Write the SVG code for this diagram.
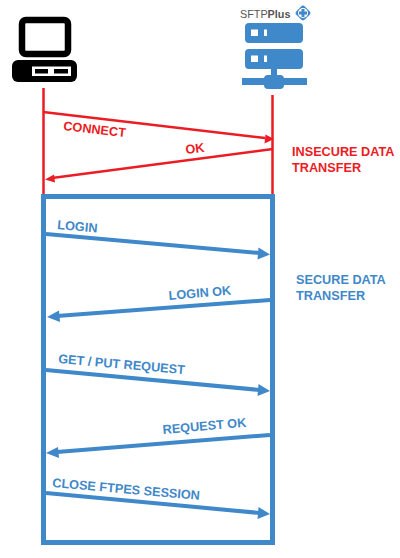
<svg xmlns="http://www.w3.org/2000/svg" width="400" height="558" viewBox="0 0 400 558">
<style>
text{font-family:"Liberation Sans",Arial,sans-serif;font-weight:700;font-size:12.700px}
.r{fill:#ec1c24}.b{fill:#3f88c9}
.rl{stroke:#ec1c24;stroke-width:2.5;fill:none}
.bl{stroke:#3f88c9;stroke-width:4;fill:none}
</style>
<rect width="400" height="558" fill="#fff"/>
<g id="client">
<rect x="22" y="20" width="46" height="34" rx="4" fill="#fff" stroke="#000" stroke-width="6.500"/>
<rect x="12" y="60" width="65" height="22" rx="6" fill="#000"/>
<rect x="32" y="66.500" width="39" height="9.500" fill="#fff"/>
<rect x="35" y="69" width="13" height="4.500" fill="#000"/>
<rect x="54" y="69" width="14" height="4.500" fill="#000"/>
</g>
<g id="server">
<text x="240" y="18" style="font-weight:400;font-size:10.800px;fill:#555">SFTP<tspan style="font-weight:700">Plus</tspan></text>
<rect x="297" y="7" width="12" height="12" rx="3" transform="rotate(45 303 13)" fill="#3f88c9"/>
<circle cx="303" cy="13" r="5" fill="#fff"/>
<path d="M301.500 9h3v2.500h2.500v3h-2.500v2.500h-3v-2.500h-2.500v-3h2.500z" fill="#3f88c9"/>
<rect x="245" y="23" width="58" height="20" rx="4" fill="#3f88c9"/>
<rect x="245" y="49" width="58" height="20" rx="4" fill="#3f88c9"/>
<rect x="251" y="29.500" width="7" height="6.500" fill="#fff"/>
<rect x="264" y="29.500" width="3" height="6.500" fill="#fff"/>
<rect x="251" y="55.500" width="7" height="6.500" fill="#fff"/>
<rect x="264" y="55.500" width="3" height="6.500" fill="#fff"/>
<rect x="271" y="69" width="6" height="8" fill="#3f88c9"/>
<rect x="242" y="78" width="65" height="7" fill="#3f88c9"/>
<rect x="264" y="75" width="20" height="14" rx="4" fill="#3f88c9"/>
</g>
<g id="connectors">
<path class="rl" d="M43.500 88V195M272.500 95V195"/>
<path class="rl" d="M43 112L265 138"/>
<path class="r" d="M274 139L264.500 143.500L265.500 134.500Z"/>
<path class="rl" d="M273 149L52 178"/>
<path class="r" d="M45 179.500L54 174.500L55 182.500Z"/>
<path class="bl" d="M46 234L260 253"/>
<path class="b" d="M270 254.500L257.500 259.500L258.500 247.500Z"/>
<path class="bl" d="M270 300L57 316"/>
<path class="b" d="M47 317L59 310.500L60 322Z"/>
<path class="bl" d="M46 370L260 390"/>
<path class="b" d="M270 391L257.500 396L258.500 384Z"/>
<path class="bl" d="M270 435L57 452"/>
<path class="b" d="M46 453L58 447L59 458Z"/>
<path class="bl" d="M46 493L260 513"/>
<path class="b" d="M270 514L257.500 519L258.500 507Z"/>
</g>
<g id="secure-session">
<rect x="43.500" y="196.500" width="229" height="346" fill="none" stroke="#3f88c9" stroke-width="5"/>
</g>
<g id="labels">
<text class="r" transform="translate(63 130) rotate(6.500)">CONNECT</text>
<text class="r" transform="translate(186 154) rotate(-7)">OK</text>
<text class="r" x="292" y="156">INSECURE DATA</text>
<text class="r" x="292" y="172">TRANSFER</text>
<text class="b" transform="translate(57 229) rotate(5)">LOGIN</text>
<text class="b" transform="translate(169 300) rotate(-5)">LOGIN OK</text>
<text class="b" transform="translate(58 363) rotate(5)">GET / PUT REQUEST</text>
<text class="b" transform="translate(163 434) rotate(-5)">REQUEST OK</text>
<text class="b" transform="translate(52 487) rotate(5)">CLOSE FTPES SESSION</text>
<text class="b" x="296" y="284">SECURE DATA</text>
<text class="b" x="296" y="300">TRANSFER</text>
</g>
</svg>
